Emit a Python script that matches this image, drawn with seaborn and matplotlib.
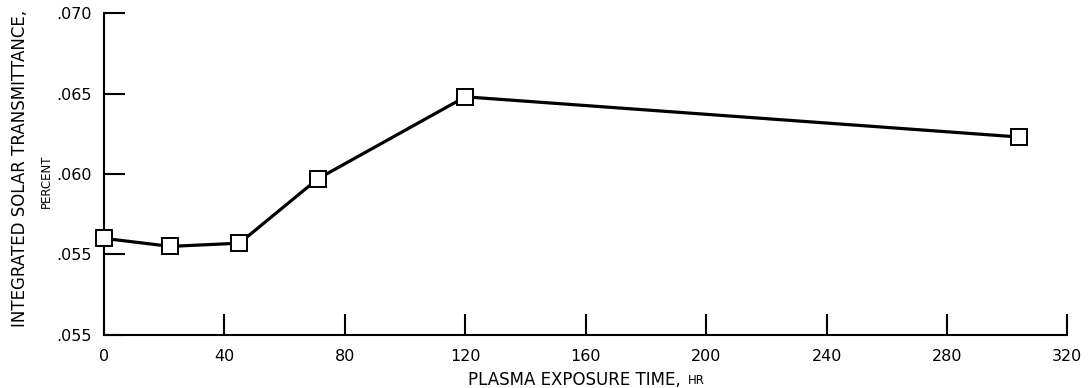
import matplotlib
matplotlib.use("Agg")
import matplotlib.pyplot as plt
import seaborn as sns
import pandas as pd

# Data
exposure_hr = [0, 22, 45, 71, 120, 304]
transmittance = [0.0560, 0.0555, 0.0557, 0.0597, 0.0648, 0.0623]
x_ticks = [0, 40, 80, 120, 160, 200, 240, 280, 320]
y_ticks = [0.050, 0.055, 0.060, 0.065, 0.070]
y_tick_labels = [".055", ".055", ".060", ".065", ".070"]

sns.set_theme(style="white")
plt.rcParams["font.family"] = ["DejaVu Sans"]

fig = plt.figure(figsize=(10.88, 3.88), dpi=100)
ax = fig.add_axes([0.0956, 0.137, 0.8855, 0.829])

df = pd.DataFrame({"t": exposure_hr, "v": transmittance})
sns.lineplot(data=df, x="t", y="v", ax=ax, color="black", linewidth=2.3,
             marker="s", markersize=11, markerfacecolor="white",
             markeredgecolor="black", markeredgewidth=1.4, clip_on=False,
             zorder=5)

ax.set_xlim(0, 320)
ax.set_ylim(0.050, 0.070)
ax.set_xticks(x_ticks)
ax.set_xticklabels([str(t) for t in x_ticks])
ax.set_yticks(y_ticks)
ax.set_yticklabels(y_tick_labels)
for s in ["top", "right"]:
    ax.spines[s].set_visible(False)
for s in ["left", "bottom"]:
    ax.spines[s].set_linewidth(1.5)
    ax.spines[s].set_color("black")
ax.tick_params(axis="both", direction="in", length=15, width=1.5,
               color="black", labelsize=11.5, labelcolor="black",
               bottom=True, left=True)
ax.tick_params(axis="x", pad=10)
ax.tick_params(axis="y", pad=9)

ax.set_xlabel("")
ax.set_ylabel("")
t1 = fig.text(0.430, 0.021, "PLASMA EXPOSURE TIME,", fontsize=12,
              ha="left", va="center", color="black")
ax.annotate("HR", xy=(1, 0), xycoords=t1, xytext=(5, 1),
            textcoords="offset points", fontsize=8.5, ha="left",
            va="bottom", color="black", annotation_clip=False)
fig.text(0.018, 0.567, "INTEGRATED SOLAR TRANSMITTANCE,", fontsize=12,
         rotation=90, ha="center", va="center", color="black")
fig.text(0.043, 0.533, "PERCENT", fontsize=8.5, rotation=90, ha="center",
         va="center", color="black")

fig.savefig("out.png", dpi=100, facecolor="white")
